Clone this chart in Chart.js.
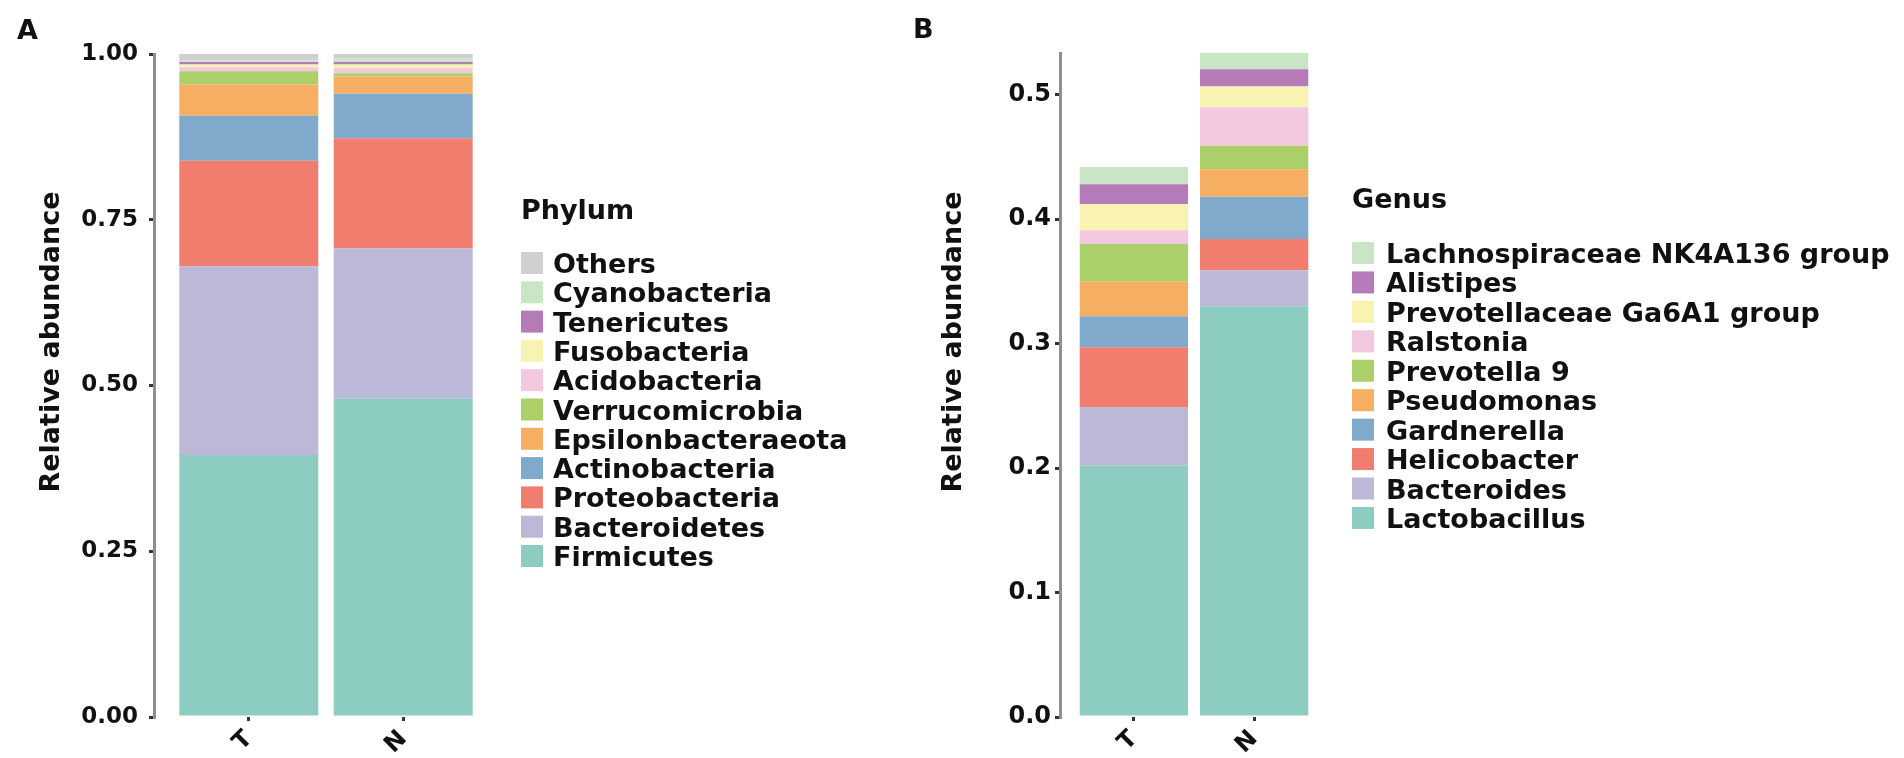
<!DOCTYPE html>
<html>
<head>
<meta charset="utf-8">
<title>Relative abundance - Phylum / Genus</title>
<script src="https://cdn.jsdelivr.net/npm/chart.js@4.4.1/dist/chart.umd.min.js"></script>
<style>
  html, body { margin: 0; padding: 0; background: #fff; }
  body { width: 1904px; height: 758px; position: relative; overflow: hidden; }
  canvas { position: absolute; top: 0; }
  #chartA { left: 0; }
  #chartB { left: 880px; }
</style>
</head>
<body>
<canvas id="chartA" width="880" height="758"></canvas>
<canvas id="chartB" width="1024" height="758"></canvas>
<script>
// DATA (stack order: bottom -> top)

const samples = ['T', 'N'];

const phylumNames = ['Firmicutes', 'Bacteroidetes', 'Proteobacteria', 'Actinobacteria',
    'Epsilonbacteraeota', 'Verrucomicrobia', 'Acidobacteria', 'Fusobacteria',
    'Tenericutes', 'Cyanobacteria', 'Others'];
const phylumT = [0.395, 0.285, 0.159, 0.068, 0.047, 0.020, 0.006, 0.004, 0.004, 0.002, 0.010];
const phylumN = [0.480, 0.227, 0.166, 0.067, 0.026, 0.005, 0.008, 0.005, 0.004, 0.005, 0.007];

const genusNames = ['Lactobacillus', 'Bacteroides', 'Helicobacter', 'Gardnerella',
    'Pseudomonas', 'Prevotella 9', 'Ralstonia', 'Prevotellaceae Ga6A1 group',
    'Alistipes', 'Lachnospiraceae NK4A136 group'];
const genusT = [0.202, 0.047, 0.048, 0.025, 0.028, 0.030, 0.011, 0.021, 0.016, 0.014];
const genusN = [0.330, 0.029, 0.025, 0.034, 0.022, 0.019, 0.031, 0.0165, 0.014, 0.013];

const phylumTicks = [0, 0.25, 0.5, 0.75, 1];
const genusTicks = [0, 0.1, 0.2, 0.3, 0.4, 0.5];

const palette = ['#8dcdc1', '#bbb8d8', '#f07d6e', '#7faacc', '#f5ae62', '#abd06a',
    '#f4c8de', '#f8f3b0', '#b57ab8', '#c9e5c5', '#d0d0d0'];


const FONT = 'DejaVu Sans';
Chart.defaults.font.family = FONT;
Chart.defaults.font.weight = 'bold';
Chart.defaults.color = '#111';

function sum(arr) {
    return arr.reduce((a, b) => a + b, 0);
}

function makeDatasets(names, tValues, nValues) {
    return names.map((name, i) => ({
        label: name,
        data: [{ x: 1, y: tValues[i] }, { x: 2, y: nValues[i] }],
        backgroundColor: palette[i],
        borderWidth: 0,
        barPercentage: 0.9,
        categoryPercentage: 1.0
    }));
}

// panel letter, y title and legend
const decorPlugin = {
    id: 'decor',
    afterDraw(chart, args, opts) {
        const ctx = chart.ctx;
        const area = chart.chartArea;
        ctx.save();
        ctx.fillStyle = '#111';
        ctx.textAlign = 'left';
        ctx.textBaseline = 'alphabetic';

        ctx.font = 'bold 27px "' + FONT + '"';
        ctx.fillText(opts.letter, opts.letterX, opts.letterY);

        ctx.save();
        ctx.translate(opts.yTitleX, opts.yTitleY);
        ctx.rotate(-Math.PI / 2);
        ctx.textAlign = 'center';
        ctx.textBaseline = 'middle';
        ctx.font = 'bold 27px "' + FONT + '"';
        ctx.fillText(opts.yTitle, 0, 0);
        ctx.restore();

        const keyX = area.right + opts.legendGap;
        ctx.font = 'bold 27px "' + FONT + '"';
        ctx.fillText(opts.legendTitle, keyX, opts.legendTitleY);

        const items = chart.data.datasets.slice().reverse();
        items.forEach((ds, i) => {
            const top = opts.firstKeyY + i * opts.rowStep;
            ctx.fillStyle = ds.backgroundColor;
            ctx.fillRect(keyX, top, 22, 22);
            ctx.fillStyle = '#111';
            ctx.fillText(ds.label, keyX + opts.textGap, top + 21);
        });
        ctx.restore();
    }
};

function makeChart(id, names, tValues, nValues, yTicks, cfg) {
    const yMax = Math.max(sum(tValues), sum(nValues));
    return new Chart(document.getElementById(id), {
        type: 'bar',
        data: { datasets: makeDatasets(names, tValues, nValues) },
        options: {
            responsive: false,
            animation: false,
            devicePixelRatio: 1,
            layout: { padding: { top: cfg.top, right: cfg.right, bottom: 0, left: 0 } },
            plugins: {
                legend: { display: false },
                tooltip: { enabled: false },
                decor: cfg.decor
            },
            scales: {
                x: {
                    type: 'linear',
                    stacked: true,
                    min: 0.386,
                    max: 2.614,
                    offset: false,
                    afterBuildTicks: s => { s.ticks = samples.map((_, i) => ({ value: i + 1 })); },
                    afterFit: s => { s.height = 41; },
                    ticks: {
                        callback: v => samples[v - 1],
                        minRotation: 45,
                        maxRotation: 45,
                        padding: 4,
                        font: { size: 24 },
                        color: '#111'
                    },
                    grid: { offset: false, drawOnChartArea: false, tickLength: 4, color: '#333', lineWidth: 3 },
                    border: { display: false }
                },
                y: {
                    stacked: true,
                    min: 0,
                    max: yMax,
                    afterBuildTicks: s => { s.ticks = yTicks.map(v => ({ value: v })); },
                    afterFit: s => { s.width = cfg.yWidth; },
                    ticks: {
                        callback: v => v.toFixed(cfg.decimals),
                        padding: cfg.tickPad,
                        font: { size: cfg.tickSize },
                        color: '#111'
                    },
                    grid: { drawOnChartArea: false, tickLength: 5, color: '#333', lineWidth: 3 },
                    border: { display: true, color: '#8f8f8f', width: 3 }
                }
            }
        },
        plugins: [decorPlugin]
    });
}

// PHYLUM
makeChart('chartA', phylumNames, phylumT, phylumN, phylumTicks, {
    top: 54, right: 382, yWidth: 154, tickPad: 11, tickSize: 23, decimals: 2,
    decor: {
        letter: 'A', letterX: 17, letterY: 39,
        yTitle: 'Relative abundance', yTitleX: 52, yTitleY: 342,
        legendTitle: 'Phylum', legendGap: 23, legendTitleY: 219,
        firstKeyY: 252, rowStep: 29.3, textGap: 32
    }
});

// GENUS
makeChart('chartB', genusNames, genusT, genusN, genusTicks, {
    top: 53, right: 576, yWidth: 180, tickPad: 4, tickSize: 24, decimals: 1,
    decor: {
        letter: 'B', letterX: 33, letterY: 38,
        yTitle: 'Relative abundance', yTitleX: 74, yTitleY: 342,
        legendTitle: 'Genus', legendGap: 24, legendTitleY: 208,
        firstKeyY: 242, rowStep: 29.44, textGap: 34
    }
});
</script>
</body>
</html>
